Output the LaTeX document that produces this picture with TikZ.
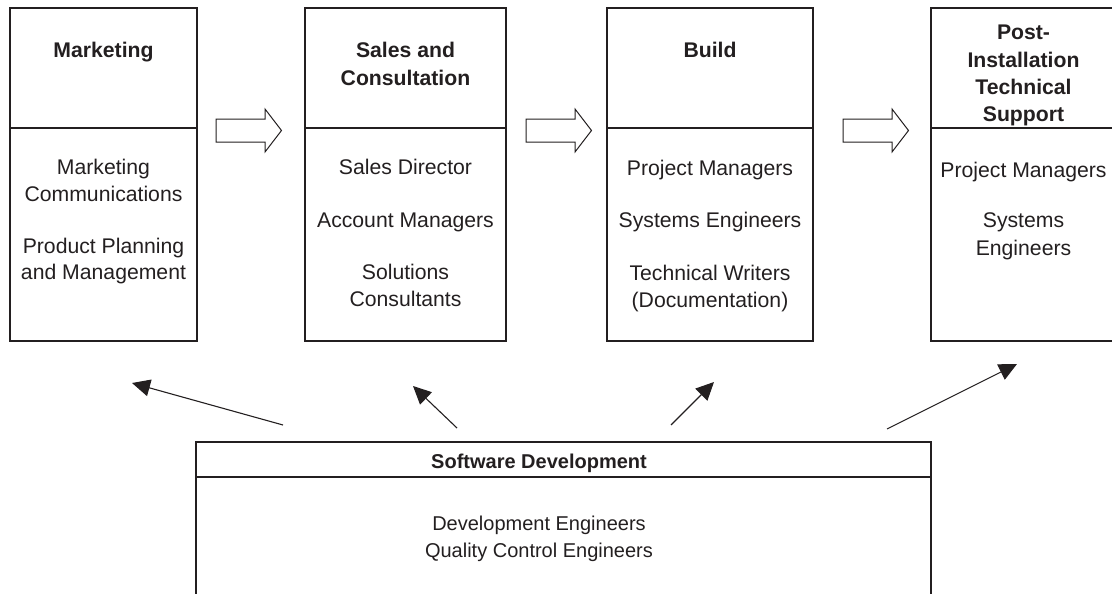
\documentclass[tikz,border=0pt]{standalone}
\usepackage{fontspec}
\setmainfont{Liberation Sans}
\usetikzlibrary{arrows.meta}
\definecolor{ink}{RGB}{35,31,32}
% centred lines, aligned on the baseline of the first one
\newcommand\stack[1]{\begin{tabular}[t]{@{}c@{}}#1\end{tabular}}
\begin{document}
\begin{tikzpicture}[x=1pt,y=-1pt,
  box/.style={draw=ink, line width=1.9pt, anchor=north west, inner sep=0pt, outer sep=0pt},
  divider/.style={draw=ink, line width=1.9pt},
  head/.style={anchor=base, inner sep=0pt, text=ink, font=\fontsize{21.2}{27.2}\selectfont\bfseries},
  body/.style={anchor=base, inner sep=0pt, text=ink, font=\fontsize{21.2}{27}\selectfont},
  swhead/.style={anchor=base, inner sep=0pt, text=ink, font=\fontsize{20}{27}\selectfont\bfseries},
  swbody/.style={anchor=base, inner sep=0pt, text=ink, font=\fontsize{20}{27}\selectfont},
  flow/.style={draw=ink, line width=1pt, fill=white, line join=miter},
  feed/.style={draw=ink, line width=1.1pt, -{Triangle[length=18pt,width=17pt]}}]

\useasboundingbox (0,0) rectangle (1112,594);
\clip (0,0) rectangle (1112,594);

% stage boxes
\node[box, minimum width=187pt, minimum height=333pt] (mkt)   at (10,8)  {};
\node[box, minimum width=201pt, minimum height=333pt] (sales) at (305,8) {};
\node[box, minimum width=206pt, minimum height=333pt] (build) at (607,8) {};
\node[box, minimum width=185pt, minimum height=333pt] (post)  at (931,8) {};
\node[box, minimum width=735pt, minimum height=160pt] (sw)    at (196,442) {};

% header / body separators
\foreach \b in {mkt,sales,build,post}
  \draw[divider] (\b.west |- 0,128) -- (\b.east |- 0,128);
\draw[divider] (sw.west |- 0,477) -- (sw.east |- 0,477);

% headers
\node[head] (mktH)   at (103.5,58) {\stack{Marketing}};
\node[head] (salesH) at (405.5,58) {\stack{Sales and\\Consultation}};
\node[head] (buildH) at (710,58)   {\stack{Build}};
\node[head] (postH)  at (1023.5,40) {\stack{Post-\\Installation\\Technical\\Support}};

% staff lists
\node[body] (mktB)   at (103.5,174) {\stack{Marketing\\Communications\\[25pt]Product Planning\\and Management}};
\node[body] (salesB) at (405.5,174) {\stack{Sales Director\\[26pt]Account Managers\\[26pt]Solutions\\Consultants}};
\node[body] (buildB) at (710,175)   {\stack{Project Managers\\[25pt]Systems Engineers\\[27pt]Technical Writers\\(Documentation)}};
\node[body] (postB)  at (1023.5,177) {\stack{Project Managers\\[24pt]Systems\\Engineers}};

\node[swhead] (swH) at (539,468) {\stack{Software Development}};
\node[swbody] (swB) at (539,530) {\stack{Development Engineers\\Quality Control Engineers}};

% hand-over arrows between stages
\coordinate (f1) at (216,130.5);
\coordinate (f2) at (526,130.5);
\coordinate (f3) at (843,130.5);
\foreach \f in {f1,f2,f3}
  \draw[flow] (\f) ++(0,-11.5) -- ++(49,0) -- ++(0,-10) -- ++(16.5,21.5)
     -- ++(-16.5,21.5) -- ++(0,-10) -- ++(-49,0) -- cycle;

% support from software development
\coordinate (t1) at (283,425);  \coordinate (h1) at (132,383);
\coordinate (t2) at (457,428);  \coordinate (h2) at (413,386);
\coordinate (t3) at (671,425);  \coordinate (h3) at (714,382);
\coordinate (t4) at (887,429);  \coordinate (h4) at (1017,364);
\foreach \i in {1,2,3,4}
  \draw[feed] (t\i) -- (h\i);
\end{tikzpicture}
\end{document}
